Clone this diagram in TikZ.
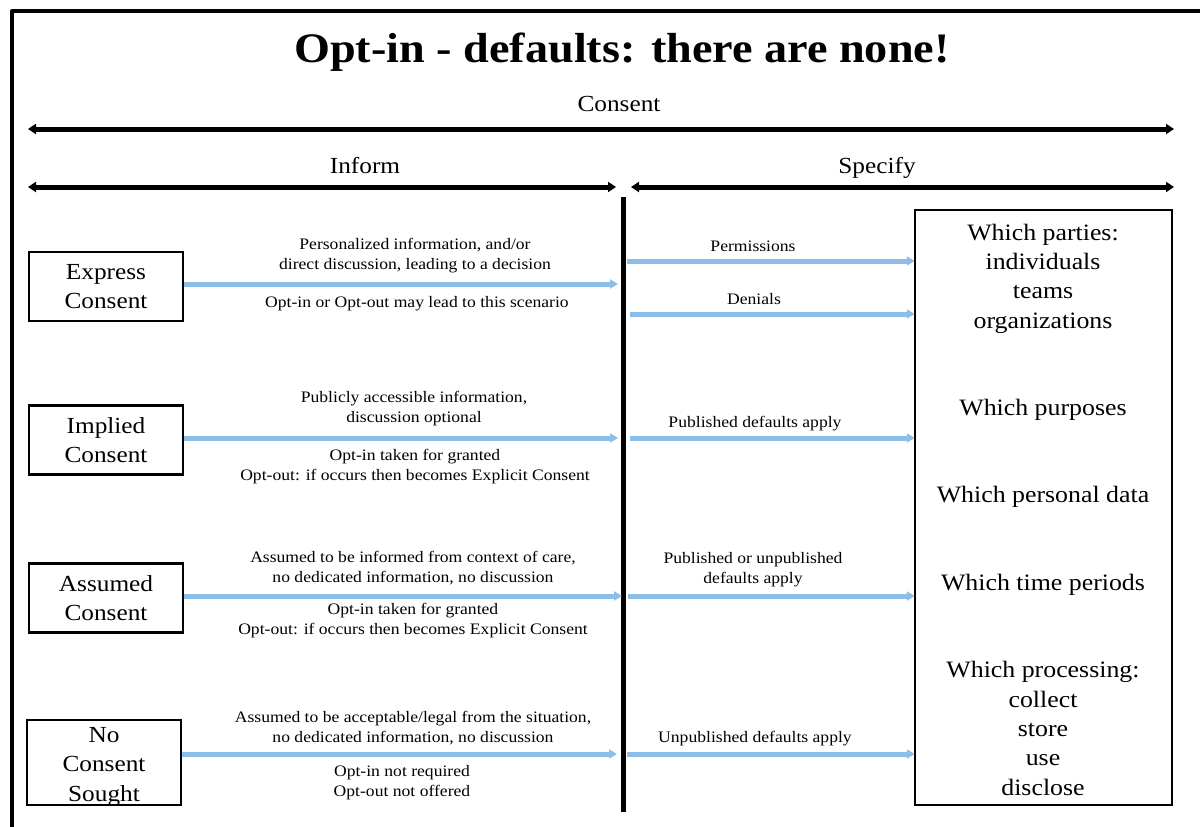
\documentclass[tikz,border=0pt]{standalone}
\usepackage{fontspec}
\setmainfont[FakeStretch=1.1]{Liberation Serif}
\usetikzlibrary{arrows.meta}
\definecolor{flow}{RGB}{141,190,232}
\tikzset{
  heading/.style={font=\fontsize{23}{27}\selectfont,anchor=base},
  scope line/.style={line width=5pt,{Triangle[length=8pt,width=10pt]}-{Triangle[length=8pt,width=10pt]}},
  kind/.style={draw,line width=2.5pt,minimum width=154pt,minimum height=69pt,inner sep=0pt,align=center,font=\fontsize{23}{29.5}\selectfont},
  flowarrow/.style={draw=flow,line width=5pt,-{Triangle[length=8pt,width=9pt]},shorten >=-1pt},
  note/.style={align=center,font=\fontsize{16}{20}\selectfont},
  spec/.style={align=center,font=\fontsize{23.5}{29.3}\selectfont},
}
\begin{document}
\begin{tikzpicture}[x=1pt,y=-1pt]
\useasboundingbox (0,0) rectangle (1200,827);
% outer frame
\draw[line width=4pt,line join=round] (12,840) -- (12,11) -- (1210,11);
% title and scope headings
\node[font=\fontsize{42}{48}\bfseries] (title) at (622,52.5) {Opt-in - defaults: there are none!};
\node[heading] (consent) at (619,111.5) {Consent};
\coordinate (cL) at (28,129); \coordinate (cR) at (1174,129);
\draw[scope line] (cL) -- (cR);
\node[heading] (inform) at (365,173.5) {Inform};
\node[heading] (specify) at (877,173.5) {Specify};
\coordinate (iL) at (28,187); \coordinate (iR) at (616,187);
\coordinate (sL) at (631,187); \coordinate (sR) at (1174,187);
\draw[scope line] (iL) -- (iR);
\draw[scope line] (sL) -- (sR);
% divider
\coordinate (dTop) at (623,197); \coordinate (dBot) at (623,812);
\draw[line width=5pt] (dTop) -- (dBot);
% specification box
\node[draw,line width=2.5pt,minimum width=257pt,minimum height=595pt,inner sep=0pt] (specbox) at (1043.5,507.5) {};
\node[spec] (parties) at (1043,278.5) {Which parties:\\individuals\\teams\\organizations};
\node[spec] (purposes) at (1043,409.5) {Which purposes};
\node[spec] (pdata) at (1043,496.5) {Which personal data};
\node[spec] (periods) at (1043,584.5) {Which time periods};
\node[spec] (processing) at (1043,728.5) {Which processing:\\collect\\store\\use\\disclose};
% consent kinds
\node[kind] (express) at (106,286.5) {Express\\Consent};
\node[kind] (implied) at (106,440) {Implied\\Consent};
\node[kind] (assumed) at (106,598) {Assumed\\Consent};
\node[kind,minimum height=85pt] (none) at (104,762.5) {};
\node[align=center,font=\fontsize{23}{29.5}\selectfont] (nonetext) at (104,766.5) {No\\Consent\\Sought};
% inform-side arrows
\coordinate (eI) at (617,284); \coordinate (mI) at (617,438);
\coordinate (aI) at (621,596); \coordinate (nI) at (616,754);
\draw[flowarrow] (express.east |- eI) -- (eI);
\draw[flowarrow] (implied.east |- mI) -- (mI);
\draw[flowarrow] (assumed.east |- aI) -- (aI);
\draw[flowarrow] (none.east |- nI) -- (nI);
% specify-side arrows
\coordinate (pS) at (627,261); \coordinate (dS) at (630,314);
\coordinate (mS) at (630,438); \coordinate (aS) at (628,596);
\coordinate (nS) at (627,754);
\draw[flowarrow] (pS) -- (specbox.west |- pS);
\draw[flowarrow] (dS) -- (specbox.west |- dS);
\draw[flowarrow] (mS) -- (specbox.west |- mS);
\draw[flowarrow] (aS) -- (specbox.west |- aS);
\draw[flowarrow] (nS) -- (specbox.west |- nS);
% inform-side notes
\node[note] (e1) at (415,256) {Personalized information, and/or\\direct discussion, leading to a decision};
\node[note] (e2) at (417,304) {Opt-in or Opt-out may lead to this scenario};
\node[note] (m1) at (414,408.5) {Publicly accessible information,\\discussion optional};
\node[note] (m2) at (415,467) {Opt-in taken for granted\\Opt-out: if occurs then becomes Explicit Consent};
\node[note] (a1) at (413,568) {Assumed to be informed from context of care,\\no dedicated information, no discussion};
\node[note] (a2) at (413,621) {Opt-in taken for granted\\Opt-out: if occurs then becomes Explicit Consent};
\node[note] (n1) at (413,728) {Assumed to be acceptable/legal from the situation,\\no dedicated information, no discussion};
\node[note] (n2) at (402,783) {Opt-in not required\\Opt-out not offered};
% specify-side notes
\node[note] (p) at (753,246) {Permissions};
\node[note] (d) at (754,299) {Denials};
\node[note] (m3) at (755,424) {Published defaults apply};
\node[note] (a3) at (753,570) {Published or unpublished\\defaults apply};
\node[note] (n3) at (755,739) {Unpublished defaults apply};
\end{tikzpicture}
\end{document}
